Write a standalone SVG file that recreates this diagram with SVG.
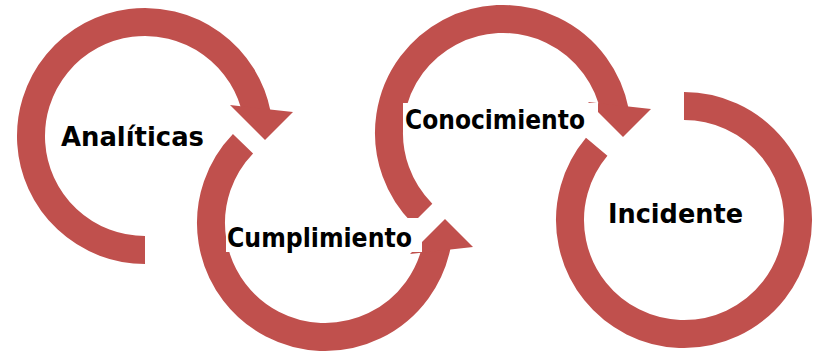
<svg xmlns="http://www.w3.org/2000/svg" width="815" height="354" viewBox="0 0 815 354">
  <style>
    .ring { fill: none; stroke: #c0504d; stroke-width: 28; stroke-linecap: butt; }
    .head { fill: #c0504d; stroke: none; }
    .box { fill: #ffffff; stroke: none; }
    .lbl { font-family: "DejaVu Sans", Verdana, sans-serif; font-weight: bold; font-size: 26px; fill: #000000; }
  </style>
  <rect width="815" height="354" fill="#ffffff"/>
  <g id="connectors">
    <path class="ring" d="M145,250 A114,114 0 1 1 256.9,114.25"/>
    <polygon class="head" points="230,105 293,112 265,140"/>
    <path class="ring" d="M243,143.8 A114,114 0 1 0 436.9,244.75"/>
    <polygon class="head" points="410,254 473,247 445,219"/>
    <path class="ring" d="M422.4,213.6 A114,114 0 1 1 614.9,111.25"/>
    <polygon class="head" points="588,102 651,109 623,137"/>
    <path class="ring" d="M684,106 A114,114 0 1 1 596.7,146.7"/>
  </g>
  <g id="node-analiticas">
    <rect class="box" x="55" y="117" width="162" height="35"/>
    <text class="lbl" x="61" y="145.5" textLength="143" lengthAdjust="spacingAndGlyphs">Analíticas</text>
  </g>
  <g id="node-cumplimiento">
    <rect class="box" x="226" y="218" width="196" height="34"/>
    <text class="lbl" x="227" y="246.5" textLength="185" lengthAdjust="spacingAndGlyphs">Cumplimiento</text>
  </g>
  <g id="node-conocimiento">
    <rect class="box" x="403" y="103" width="195" height="32"/>
    <text class="lbl" x="405" y="128.5" textLength="180" lengthAdjust="spacingAndGlyphs">Conocimiento</text>
  </g>
  <g id="node-incidente">
    <text class="lbl" x="608" y="223" textLength="135" lengthAdjust="spacingAndGlyphs">Incidente</text>
  </g>
</svg>
